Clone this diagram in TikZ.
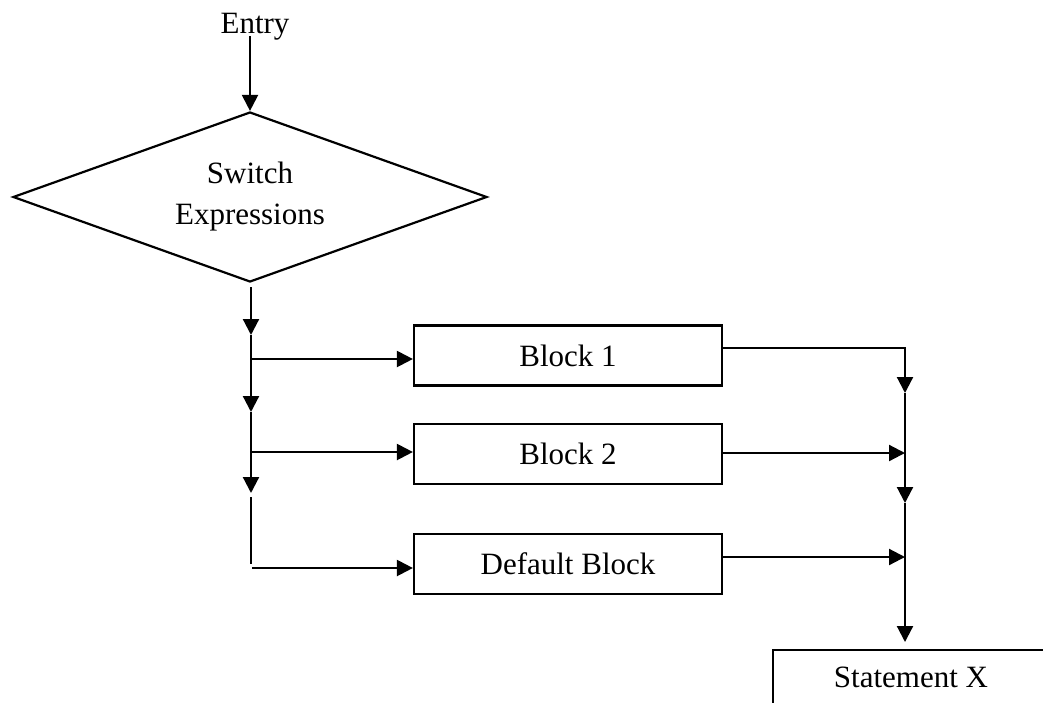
\documentclass[tikz,border=0pt]{standalone}
\usepackage{fontspec}
\setmainfont{Liberation Serif}
\usetikzlibrary{shapes.geometric,arrows.meta}
\begin{document}
\begin{tikzpicture}[x=1pt,y=-1pt,line width=2.2pt,
  txt/.style={font=\fontsize{31}{41}\selectfont},
  box/.style={txt,draw,minimum width=308pt,minimum height=60pt,inner sep=0pt},
  flow/.style={-{Triangle[length=16pt,width=16pt]}}]
\useasboundingbox (0,0) rectangle (1043,702);

% nodes
\node[txt,anchor=base] (entry) at (255,33) {Entry};
\node[txt,draw,diamond,aspect=2.79,minimum width=474pt,minimum height=170pt,
      inner sep=0pt,align=center] (sw) at (250,197) {Switch\\Expressions};
\node[box] (b1) at (568,355.5) {Block 1};
\node[box] (b2) at (568,454) {Block 2};
\node[box] (b3) at (568,564) {Default Block};
\node[box,minimum width=276pt,minimum height=54pt] (sx) at (911,677) {Statement X};

% junction points on the dispatch line
\coordinate (e0) at (250,36);
\coordinate (l0) at (251,287);
\coordinate (l1) at (251,335);
\coordinate (l2) at (251,412);
\coordinate (l3) at (251,493);
\coordinate (l4) at (251,497);
\coordinate (l5) at (251,564);
\coordinate (k1) at (251,359);
\coordinate (k2) at (251,452);
\coordinate (k3) at (252,568);

% junction points on the collecting line
\coordinate (r0) at (905,348);
\coordinate (r1) at (905,393);
\coordinate (r2) at (905,503);
\coordinate (r3) at (905,642);
\coordinate (r4) at (905,453);
\coordinate (r5) at (905,557);

% entry
\draw[flow] (e0) -- (sw.north);

% dispatch line
\draw[flow] (l0) -- (l1);
\draw[flow] (l1) -- (l2);
\draw[flow] (l2) -- (l3);
\draw (l4) -- (l5);
\draw[flow] (k1) -- (k1 -| b1.west);
\draw[flow] (k2) -- (k2 -| b2.west);
\draw[flow] (k3) -- (k3 -| b3.west);

% collecting line
\draw[flow] (r0 -| b1.east) -- (r0) -- (r1);
\draw[flow] (r1) -- (r2);
\draw[flow] (r2) -- (r3);
\draw[flow] (r4 -| b2.east) -- (r4);
\draw[flow] (r5 -| b3.east) -- (r5);
\end{tikzpicture}
\end{document}
